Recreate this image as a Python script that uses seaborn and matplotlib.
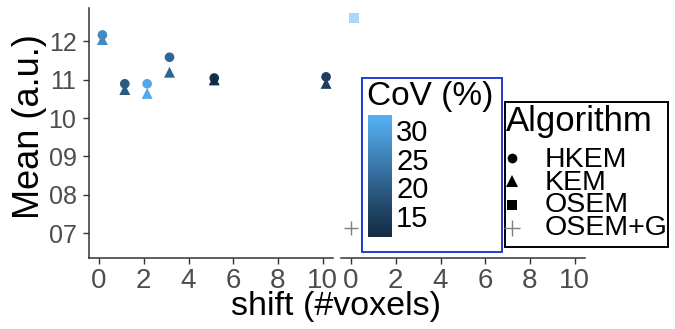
import numpy as np
import pandas as pd
import matplotlib
matplotlib.use("Agg")
import matplotlib.pyplot as plt
import seaborn as sns
from matplotlib.colors import LinearSegmentedColormap, Normalize
from matplotlib.lines import Line2D
from matplotlib.patches import Rectangle
import matplotlib.cm as cm

# ---- data -------------------------------------------------------------
shift = [0, 1, 2, 3, 5, 10]
hkem_mean = [12.16, 10.89, 10.89, 11.58, 11.04, 11.07]
kem_mean = [12.04, 10.74, 10.64, 11.19, 10.99, 10.90]
hkem_cov = [26.5, 19.5, 31.0, 21.3, 12.4, 14.8]
kem_cov = [26.5, 19.5, 31.0, 21.3, 11.3, 14.8]

osem_shift = [0]
osem_mean = [12.60]
osem_cov = [32.6]
osemg_shift = [0]
osemg_mean = [7.15]

y_ticks = [7, 8, 9, 10, 11, 12]
y_tick_labels = ["07", "08", "09", "10", "11", "12"]
x_ticks = [0, 2, 4, 6, 8, 10]
cov_ticks = [15, 20, 25, 30]
algorithms = ["HKEM", "KEM", "OSEM", "OSEM+G"]

# ---- style ------------------------------------------------------------
sns.set_theme(style="white")
plt.rcParams["font.family"] = ["Liberation Sans", "DejaVu Sans"]

W, H = 675, 329
fig = plt.figure(figsize=(W / 100, H / 100), dpi=100)


def px_box(x0, y0, x1, y1):
    return [x0 / W, 1 - y1 / H, (x1 - x0) / W, (y1 - y0) / H]


cmap = LinearSegmentedColormap.from_list(
    "gg_blues", ["#132B43", "#22496A", "#336A98", "#4590C8", "#56B1F7"])
all_cov = hkem_cov + kem_cov + osem_cov
norm = Normalize(vmin=min(all_cov), vmax=max(all_cov))

nudge = 0.15  # points sit slightly right of their shift value

left = pd.concat([
    pd.DataFrame({"shift": np.array(shift) + nudge, "mean": hkem_mean,
                  "cov": hkem_cov, "Algorithm": "HKEM"}),
    pd.DataFrame({"shift": np.array(shift) + nudge, "mean": kem_mean,
                  "cov": kem_cov, "Algorithm": "KEM"}),
])
osem = pd.DataFrame({"shift": np.array(osem_shift) + nudge, "mean": osem_mean,
                     "cov": osem_cov, "Algorithm": "OSEM"})
osemg = pd.DataFrame({"shift": osemg_shift, "mean": osemg_mean,
                      "Algorithm": "OSEM+G"})

ax_l = fig.add_axes(px_box(89, 8, 333, 258))
ax_r = fig.add_axes(px_box(341, 8, 585, 258))

sizes = {"HKEM": 48, "KEM": 62}
marks = {"HKEM": "o", "KEM": "^"}
for alg in ["HKEM", "KEM"]:
    sns.scatterplot(data=left[left.Algorithm == alg], x="shift", y="mean",
                    hue="cov", hue_norm=norm, palette=cmap, marker=marks[alg],
                    s=sizes[alg], linewidth=0, legend=False, ax=ax_l)

sns.scatterplot(data=osem, x="shift", y="mean", hue="cov", hue_norm=norm,
                palette=cmap, marker="s", s=45, linewidth=0, alpha=0.5,
                legend=False, ax=ax_r)
sns.scatterplot(data=osemg, x="shift", y="mean", color="#7f7f7f", marker="+",
                s=110, linewidth=1.0, legend=False, ax=ax_r)

axis_col = "#333333"
tick_col = "#4d4d4d"
for ax in (ax_l, ax_r):
    ax.set_xlim(-0.45, 10.46)
    ax.set_ylim(6.36, 12.86)
    ax.set_facecolor("white")
    ax.set_xlabel("")
    ax.set_ylabel("")
    for side in ("top", "right"):
        ax.spines[side].set_visible(False)
    ax.spines["bottom"].set_color(axis_col)
    ax.spines["bottom"].set_linewidth(1.1)
    ax.set_xticks(x_ticks)
    ax.set_xticklabels([str(t) for t in x_ticks])
    ax.tick_params(axis="x", colors=axis_col, length=4, width=1.0, pad=3,
                   labelsize=20, labelcolor=tick_col, bottom=True)
    ax.grid(False)

ax_l.spines["left"].set_color(axis_col)
ax_l.spines["left"].set_linewidth(1.1)
ax_l.set_yticks(y_ticks)
ax_l.set_yticklabels(y_tick_labels)
ax_l.tick_params(axis="y", colors=axis_col, length=4, width=1.0, pad=5,
                 labelsize=18, labelcolor=tick_col, left=True)

ax_r.spines["left"].set_visible(False)
ax_r.set_yticks([])

fig.text(30 / W, 1 - 127 / H, "Mean (a.u.)", rotation=90, ha="center",
         va="center", fontsize=26, color="black")
fig.text(336 / W, 1 - 307 / H, "shift (#voxels)", ha="center", va="center",
         fontsize=24.5, color="black")

# ---- colour bar legend ------------------------------------------------
fig.add_artist(Rectangle((362 / W, 1 - 252 / H), 140 / W, 174 / H,
                         transform=fig.transFigure, facecolor="white",
                         edgecolor="#1f3bd1", linewidth=1.4, zorder=5))
cax = fig.add_axes(px_box(368, 115, 392, 237), zorder=6)
cb = fig.colorbar(cm.ScalarMappable(norm=norm, cmap=cmap), cax=cax)
cb.outline.set_visible(False)
cb.set_ticks(cov_ticks)
cb.set_ticklabels([str(t) for t in cov_ticks])
cax.yaxis.set_ticks_position("both")
cax.tick_params(axis="y", direction="in", length=5, width=0.8,
                color="white", labelsize=21, labelcolor="black", pad=3,
                labelleft=False, labelright=True)
fig.text(367 / W, 1 - 96 / H, "CoV (%)", ha="left", va="center",
         fontsize=24, color="black", zorder=7)

# ---- shape legend -----------------------------------------------------
fig.add_artist(Rectangle((505 / W, 1 - 247 / H), 163 / W, 145 / H,
                         transform=fig.transFigure, facecolor="white",
                         edgecolor="black", linewidth=1.4, zorder=5))
fig.text(506 / W, 1 - 122 / H, "Algorithm", ha="left", va="center",
         fontsize=25, color="black", zorder=7)
legend_marks = [("o", 7, "black", 0), ("^", 8, "black", 0),
                ("s", 7, "black", 0), ("+", 11, "#7f7f7f", 1.0)]
row_y = [158, 181, 205, 228]
for (m, ms, c, mew), ry in zip(legend_marks, row_y):
    fig.add_artist(Line2D([512 / W], [1 - ry / H], marker=m, markersize=ms,
                          color=c, markeredgewidth=mew, linestyle="none",
                          transform=fig.transFigure, zorder=7))
# the tightly packed entry labels are set as one block of lines
fig.text(545 / W, 1 - 194 / H, "\n".join(algorithms), ha="left",
         va="center", fontsize=20.5, linespacing=0.84, color="black",
         zorder=7)

fig.savefig("out.png", dpi=100, facecolor="white")
